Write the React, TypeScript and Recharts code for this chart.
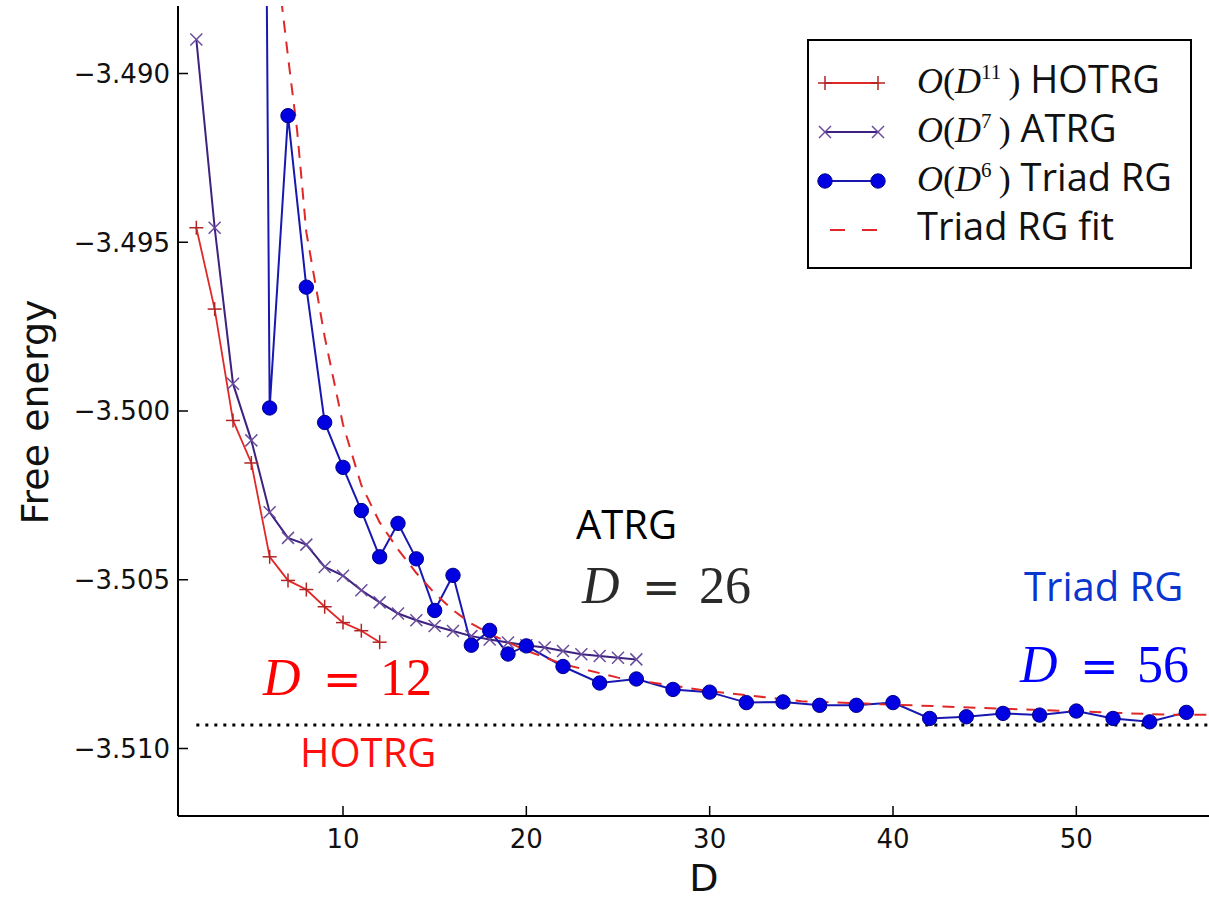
import React from 'react';
import { LineChart, Line, XAxis, YAxis, ReferenceLine, Customized } from 'recharts';

// HOTRG, O(D^11)
const hotrgD = [2, 3, 4, 5, 6, 7, 8, 9, 10, 11, 12];
const hotrgF = [-3.49457, -3.49698, -3.50028, -3.50154, -3.50432, -3.50502, -3.50529, -3.5058, -3.50627, -3.50651, -3.50685];

// ATRG, O(D^7)
const atrgD = [2, 3, 4, 5, 6, 7, 8, 9, 10, 11, 12, 13, 14, 15, 16, 17, 18, 19, 20, 21, 22, 23, 24, 25, 26];
const atrgF = [
  -3.48899, -3.49457, -3.49919, -3.50087, -3.503, -3.50376, -3.50396, -3.50462, -3.50488, -3.50531, -3.50567,
  -3.506, -3.5062, -3.50637, -3.50652, -3.50667, -3.50677, -3.50686, -3.50694, -3.50701, -3.50711, -3.50721,
  -3.50726, -3.50731, -3.50736,
];

// Triad RG, O(D^6) -- the D=5 point is far above the frame
const triadD = [5, 6, 7, 8, 9, 10, 11, 12, 13, 14, 15, 16, 17, 18, 19, 20, 22, 24, 26, 28, 30, 32, 34, 36, 38, 40, 42, 44, 46, 48, 50, 52, 54, 56];
const triadF = [
  -3.422, -3.49991, -3.49125, -3.49633, -3.50034, -3.50167, -3.50295, -3.50432, -3.50333, -3.50438, -3.50591,
  -3.50487, -3.50694, -3.5065, -3.5072, -3.50696, -3.50757, -3.50806, -3.50794, -3.50825, -3.50833, -3.50864,
  -3.50862, -3.50872, -3.50872, -3.50864, -3.50911, -3.50906, -3.50896, -3.50901, -3.50889, -3.50911, -3.50921,
  -3.50893,
];

// Triad RG fit (dashed)
const fitD = [6.5, 7, 7.5, 8, 9, 10, 11, 12, 13, 14, 15, 16, 17, 18, 20, 22, 25, 30, 35, 40, 45, 50, 55, 58];
const fitF = [
  -3.4872, -3.4895, -3.4917, -3.4947, -3.4978, -3.5004, -3.5022, -3.5033, -3.5041, -3.5048, -3.5054, -3.5059,
  -3.5063, -3.5066, -3.5071, -3.5075, -3.5079, -3.5083, -3.5086, -3.5087, -3.5088, -3.5089, -3.509, -3.509,
];

const exactF = -3.5093;
const exactFrom = 2;

const xTicks = [10, 20, 30, 40, 50];
const yTicks = [-3.51, -3.505, -3.5, -3.495, -3.49];

const toRows = (ds: number[], fs: number[]) => ds.map((d, i) => ({ d, f: fs[i] }));

const RED = '#e02828';
const RED_MARK = '#b02424';
const PURPLE = '#3d2280';
const PURPLE_MARK = '#6a4c9c';
const BLUE = '#1818b0';
const BLUE_FILL = '#0000e0';
const BLUE_EDGE = '#00008a';

const sans = '"Open Sans", sans-serif';
const tickFont = '"DejaVu Sans", sans-serif';
const mathFont = '"Liberation Serif", serif';

const PlusMark = ({ cx, cy }: any) => (
  <g stroke={RED_MARK} strokeWidth={1.5}>
    <line x1={cx - 7} x2={cx + 7} y1={cy} y2={cy} />
    <line x1={cx} x2={cx} y1={cy - 7} y2={cy + 7} />
  </g>
);

const CrossMark = ({ cx, cy }: any) => (
  <g stroke={PURPLE_MARK} strokeWidth={1.5}>
    <line x1={cx - 6} x2={cx + 6} y1={cy - 6} y2={cy + 6} />
    <line x1={cx - 6} x2={cx + 6} y1={cy + 6} y2={cy - 6} />
  </g>
);

const Ball = ({ cx, cy }: any) => <circle cx={cx} cy={cy} r={7.2} fill={BLUE_FILL} stroke={BLUE_EDGE} strokeWidth={1} />;

const LeftTick = ({ x, y, payload }: any) => (
  <g>
    <line x1={x} x2={x + 10} y1={y} y2={y} stroke="#000" strokeWidth={1.5} />
    <text x={x - 8} y={y} dy="0.36em" textAnchor="end" fontFamily={tickFont} fontSize={26} fill="#111">
      {'\u2212' + Math.abs(payload.value).toFixed(3)}
    </text>
  </g>
);

const BottomTick = ({ x, y, payload }: any) => (
  <g>
    <line x1={x} x2={x} y1={y} y2={y - 10} stroke="#000" strokeWidth={1.5} />
    <text x={x} y={y + 32} textAnchor="middle" fontFamily={tickFont} fontSize={26} fill="#111">
      {payload.value}
    </text>
  </g>
);

const TopTick = ({ x, y }: any) => <line x1={x} x2={x} y1={y} y2={y + 10} stroke="#000" strokeWidth={1.5} />;

const legendRows = [
  { exp: '11', label: 'HOTRG', icon: 'plus' },
  { exp: '7', label: 'ATRG', icon: 'cross' },
  { exp: '6', label: 'Triad RG', icon: 'ball' },
  { exp: '', label: 'Triad RG fit', icon: 'dash' },
];

const MathLabel = ({ x, y, digits, color }: any) => (
  <g fill={color} fontFamily={mathFont} fontSize={52}>
    <text x={x} y={y} fontStyle="italic">D</text>
    <text x={x + 60} y={y} fontFamily='"DejaVu Serif", serif' fontSize={46}>=</text>
    <text x={x + 117} y={y}>{digits}</text>
  </g>
);

const Decorations = () => (
  <g>
    {/* axis titles */}
    <text x={704} y={891} textAnchor="middle" fontFamily={tickFont} fontSize={38} fill="#111">D</text>
    <text
      x={48}
      y={412}
      transform="rotate(-90 48 412)"
      textAnchor="middle"
      fontFamily={tickFont}
      fontSize={38}
      fill="#111"
    >
      Free energy
    </text>

    {/* annotations */}
    <text x={576} y={539} fontFamily={sans} fontSize={40} fill="#000">ATRG</text>
    <MathLabel x={582} y={603} digits="26" color="#2a2a2a" />
    <MathLabel x={263} y={695} digits="12" color="#ff0000" />
    <text x={300} y={767} fontFamily={sans} fontSize={40} fill="#ff1010">HOTRG</text>
    <text x={1024} y={601} fontFamily={sans} fontSize={40} fill="#0a36d0">Triad RG</text>
    <MathLabel x={1020} y={682} digits="56" color="#0000ff" />

    {/* legend */}
    <rect x={808} y={40} width={383} height={228} fill="#fff" stroke="#000" strokeWidth={2} />
    {legendRows.map((r, i) => {
      const cy = 83 + i * 49;
      return (
        <g key={r.label}>
          {r.icon === 'plus' && (
            <g>
              <line x1={825} x2={878} y1={cy} y2={cy} stroke={RED} strokeWidth={2} />
              <PlusMark cx={825} cy={cy} />
              <PlusMark cx={878} cy={cy} />
            </g>
          )}
          {r.icon === 'cross' && (
            <g>
              <line x1={825} x2={878} y1={cy} y2={cy} stroke={PURPLE} strokeWidth={2} />
              <CrossMark cx={825} cy={cy} />
              <CrossMark cx={878} cy={cy} />
            </g>
          )}
          {r.icon === 'ball' && (
            <g>
              <line x1={825} x2={878} y1={cy} y2={cy} stroke={BLUE} strokeWidth={2} />
              <Ball cx={825} cy={cy} />
              <Ball cx={878} cy={cy} />
            </g>
          )}
          {r.icon === 'dash' && (
            <line x1={830} x2={877} y1={cy} y2={cy} stroke={RED} strokeWidth={2} strokeDasharray="15 17" />
          )}
          {r.exp ? (
            <text x={917} y={cy + 10} fontFamily={mathFont} fontSize={36} fill="#111">
              <tspan fontStyle="italic">O</tspan>
              <tspan>(</tspan>
              <tspan fontStyle="italic">D</tspan>
              <tspan fontSize={21} dy={-14}>{r.exp}</tspan>
              <tspan dy={14}>{'\u2009)'}</tspan>
              <tspan fontFamily={sans} fontSize={38}>{' ' + r.label}</tspan>
            </text>
          ) : (
            <text x={917} y={cy + 10} fontFamily={sans} fontSize={38} fill="#111">
              {r.label}
            </text>
          )}
        </g>
      );
    })}
  </g>
);

export default function App() {
  return (
    <div style={{ position: 'absolute', left: 0, top: 0, width: 1209, height: 899, overflow: 'hidden', background: '#fff' }}>
      <LineChart width={1230} height={899} margin={{ top: 6, right: 7, bottom: 0, left: 0 }}>
        <XAxis
          dataKey="d"
          type="number"
          domain={[1, 58]}
          allowDataOverflow
          ticks={xTicks}
          interval={0}
          height={83}
          tickSize={0}
          tickMargin={0}
          tickLine={false}
          axisLine={{ stroke: '#000', strokeWidth: 2 }}
          tick={<BottomTick />}
        />
        <XAxis
          xAxisId="top"
          orientation="top"
          dataKey="d"
          type="number"
          domain={[1, 58]}
          allowDataOverflow
          ticks={xTicks}
          interval={0}
          height={0}
          tickSize={0}
          tickMargin={0}
          tickLine={false}
          axisLine={{ stroke: '#000', strokeWidth: 2 }}
          tick={<TopTick />}
        />
        <YAxis
          type="number"
          domain={[-3.512, -3.488]}
          allowDataOverflow
          ticks={yTicks}
          interval={0}
          width={178}
          tickSize={0}
          tickMargin={0}
          tickLine={false}
          axisLine={{ stroke: '#000', strokeWidth: 2 }}
          tick={<LeftTick />}
        />
        <ReferenceLine
          segment={[
            { x: exactFrom, y: exactF },
            { x: 58, y: exactF },
          ]}
          stroke="#000"
          strokeWidth={3}
          strokeDasharray="3 6"
        />
        <Line
          data={toRows(hotrgD, hotrgF)}
          dataKey="f"
          type="linear"
          stroke={RED}
          strokeWidth={1.8}
          dot={(p: any) => <PlusMark key={p.index} cx={p.cx} cy={p.cy} />}
          activeDot={false}
          isAnimationActive={false}
        />
        <Line
          data={toRows(atrgD, atrgF)}
          dataKey="f"
          type="linear"
          stroke={PURPLE}
          strokeWidth={2}
          dot={(p: any) => <CrossMark key={p.index} cx={p.cx} cy={p.cy} />}
          activeDot={false}
          isAnimationActive={false}
        />
        <Line
          data={toRows(triadD, triadF)}
          dataKey="f"
          type="linear"
          stroke={BLUE}
          strokeWidth={2}
          dot={(p: any) => <Ball key={p.index} cx={p.cx} cy={p.cy} />}
          activeDot={false}
          isAnimationActive={false}
        />
        <Line
          data={toRows(fitD, fitF)}
          dataKey="f"
          type="linear"
          stroke={RED}
          strokeWidth={2}
          strokeDasharray="12 9"
          dot={false}
          activeDot={false}
          isAnimationActive={false}
        />
        <Customized component={Decorations} />
      </LineChart>
    </div>
  );
}
